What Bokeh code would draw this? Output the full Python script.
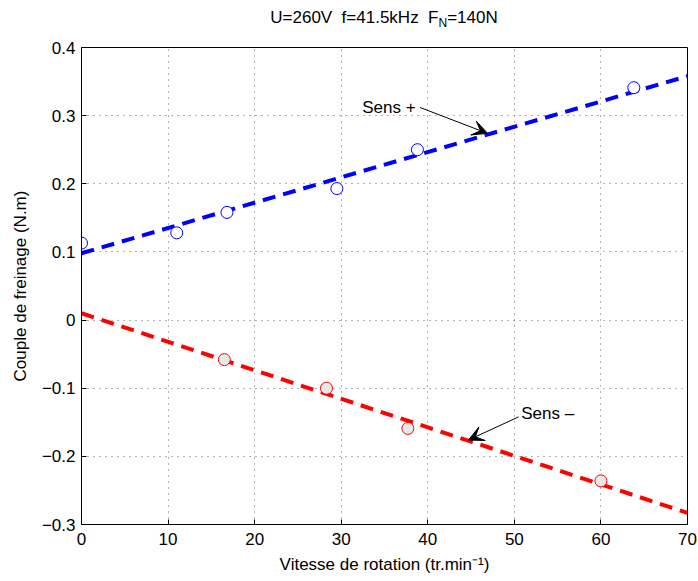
from bokeh.plotting import figure
from bokeh.models import Label, Arrow, VeeHead, FixedTicker, Range1d, Div
from bokeh.layouts import column
from bokeh.embed import file_html
from bokeh.resources import INLINE

# ---- data ----
sens_plus_x = [0.0, 11.0, 16.8, 29.5, 38.8, 63.8]
sens_plus_y = [0.113, 0.128, 0.158, 0.193, 0.250, 0.341]
fit_plus_x = [0.0, 70.0]
fit_plus_y = [0.098, 0.358]

sens_minus_x = [16.5, 28.3, 37.7, 60.0]
sens_minus_y = [-0.058, -0.100, -0.159, -0.236]
fit_minus_x = [0.0, 70.0]
fit_minus_y = [0.010, -0.283]

x_ticks = [0, 10, 20, 30, 40, 50, 60, 70]
y_ticks = [-0.3, -0.2, -0.1, 0.0, 0.1, 0.2, 0.3, 0.4]
y_tick_labels = ["\u22120.3", "\u22120.2", "\u22120.1", "0", "0.1", "0.2", "0.3", "0.4"]

title_html = "U=260V&nbsp; f=41.5kHz&nbsp; F<sub style='font-size:12px'>N</sub>=140N"
xlabel = "Vitesse de rotation (tr.min\u207b\u00b9)"
ylabel = "Couple de freinage (N.m)"
label_plus = "Sens +"
label_minus = "Sens \u2013"

FONT = "Liberation Sans"

title = Div(text=title_html, width=606, height=40, margin=(0, 11, 0, 81),
            styles={"font-family": FONT, "font-size": "17px", "color": "black",
                    "text-align": "center", "padding-top": "6px", "box-sizing": "border-box"})

p = figure(frame_width=606, frame_height=477,
           min_border_left=81, min_border_top=7, min_border_right=11, min_border_bottom=55,
           x_range=Range1d(0, 70), y_range=Range1d(-0.3, 0.4),
           output_backend="svg", toolbar_location=None,
           background_fill_color="white", border_fill_color="white")

p.outline_line_color = "black"
p.outline_line_width = 1

for ax in (p.xaxis[0], p.yaxis[0]):
    ax.major_tick_in = 5
    ax.major_tick_out = 0
    ax.minor_tick_in = 0
    ax.minor_tick_out = 0
    ax.axis_line_color = "black"
    ax.major_tick_line_color = "black"
    ax.major_label_text_font = FONT
    ax.major_label_text_font_size = "17px"
    ax.major_label_text_color = "black"
    ax.axis_label_text_font = FONT
    ax.axis_label_text_font_size = "17px"
    ax.axis_label_text_font_style = "normal"
    ax.axis_label_text_color = "black"

p.xaxis[0].ticker = FixedTicker(ticks=x_ticks)
p.xaxis[0].major_label_standoff = 8
p.xaxis[0].axis_label = xlabel
p.xaxis[0].axis_label_standoff = 7
p.yaxis[0].ticker = FixedTicker(ticks=y_ticks)
p.yaxis[0].major_label_overrides = {t: l for t, l in zip(y_ticks, y_tick_labels)}
p.yaxis[0].major_label_standoff = 6
p.yaxis[0].axis_label = ylabel
p.yaxis[0].axis_label_standoff = 9

p.xgrid.ticker = FixedTicker(ticks=x_ticks)
p.ygrid.ticker = FixedTicker(ticks=y_ticks)
for g in (p.xgrid[0], p.ygrid[0]):
    g.grid_line_color = "#666666"
    g.grid_line_dash = "1 5"
    g.grid_line_width = 1

# fitted lines
p.line(fit_plus_x, fit_plus_y, line_color="#0000ff", line_width=4, line_dash="13 8")
p.line(fit_minus_x, fit_minus_y, line_color="#ff0000", line_width=4, line_dash="13 8")

# measured points
p.scatter(sens_plus_x, sens_plus_y, marker="circle", size=12, line_color="#0000ff",
          fill_color="white", line_width=1)
p.scatter(sens_minus_x, sens_minus_y, marker="circle", size=12, line_color="#ff0000",
          fill_color="#e8e8e8", line_width=1)

# annotations
p.add_layout(Label(x=38.6, y=0.312, text=label_plus, text_align="right", text_baseline="middle",
                   text_font=FONT, text_font_size="17px", text_color="black"))
p.add_layout(Arrow(x_start=39.1, y_start=0.312, x_end=46.9, y_end=0.274,
                   line_color="black", line_width=1,
                   end=VeeHead(size=15, fill_color="black", line_color="black")))
p.add_layout(Label(x=50.8, y=-0.137, text=label_minus, text_align="left", text_baseline="middle",
                   text_font=FONT, text_font_size="17px", text_color="black"))
p.add_layout(Arrow(x_start=50.5, y_start=-0.142, x_end=44.7, y_end=-0.176,
                   line_color="black", line_width=1,
                   end=VeeHead(size=15, fill_color="black", line_color="black")))

layout = column(title, p, spacing=0)

open("out.html", "w").write(file_html(layout, INLINE))
